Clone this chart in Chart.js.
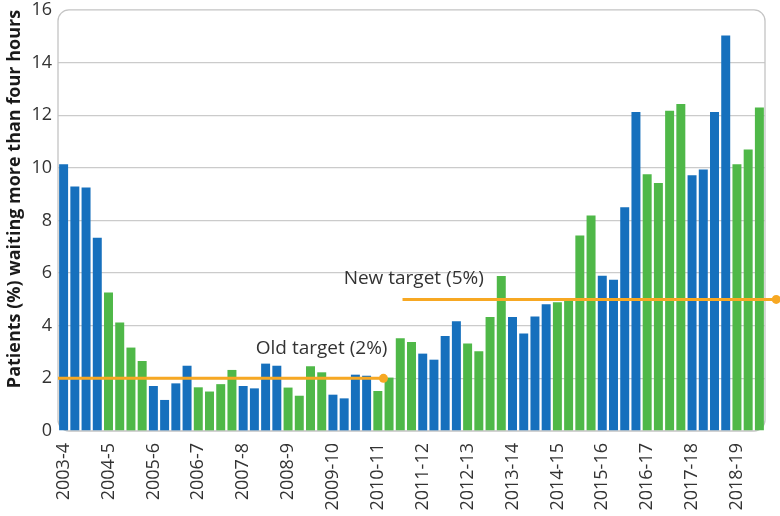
<!DOCTYPE html>
<html>
<head>
<meta charset="utf-8">
<script src="https://cdn.jsdelivr.net/npm/chart.js@4/dist/chart.umd.min.js"></script>
<style>
  body { margin: 0; background: #fff; }
  #wrap { width: 780px; height: 516px; }
</style>
</head>
<body>
<div id="wrap"><canvas id="chart1"></canvas></div>
<script>
var years = [
    "2003-4", "2004-5", "2005-6", "2006-7", "2007-8", "2008-9", "2009-10", "2010-11",
    "2011-12", "2012-13", "2013-14", "2014-15", "2015-16", "2016-17", "2017-18", "2018-19"
];

// quarterly % waiting more than four hours, Q1..Q4 per year
var waiting = [
    10.14, 9.29, 9.25, 7.34,
    5.26, 4.12, 3.17, 2.66,
    1.71, 1.18, 1.81, 2.48,
    1.66, 1.50, 1.78, 2.32,
    1.71, 1.62, 2.56, 2.48,
    1.65, 1.34, 2.46, 2.23,
    1.38, 1.24, 2.14, 2.10,
    1.52, 2.03, 3.52, 3.38,
    2.94, 2.71, 3.61, 4.17,
    3.32, 3.03, 4.33, 5.89,
    4.33, 3.70, 4.35, 4.82,
    4.89, 5.02, 7.43, 8.19,
    5.90, 5.75, 8.50, 12.12,
    9.76, 9.42, 12.17, 12.42,
    9.72, 9.94, 12.12, 15.03,
    10.14, 10.70, 12.29
];

// targets: start/end quarter position and level
var oldTarget = [{x: -0.5, y: 2}, {x: 28.5, y: 2}];
var newTarget = [{x: 30.2, y: 5}, {x: 63.5, y: 5}];
var targetNames = ["Old target (2%)", "New target (5%)"];

var yTicks = [0, 2, 4, 6, 8, 10, 12, 14, 16];

var quarters = waiting.map(function (v, i) {
    return years[Math.floor(i / 4)] + " Q" + (i % 4 + 1);
});
var barColors = waiting.map(function (v, i) {
    return Math.floor(i / 4) % 2 === 0 ? "#1670bd" : "#4fb848";
});

var FONT = "'Open Sans', 'Noto Sans', sans-serif";
var ORANGE = "#f7a823";

var framePlugin = {
    id: 'frame',
    beforeDatasetsDraw: function (chart) {
        var a = chart.chartArea, c = chart.ctx;
        c.save();
        c.strokeStyle = "#c4c4c4";
        c.lineWidth = 1.3;
        c.beginPath();
        c.roundRect(a.left, a.top, a.right - a.left, a.bottom - a.top, 11);
        c.stroke();
        c.restore();
    },
    afterDatasetsDraw: function (chart) {
        var c = chart.ctx;
        var xs = chart.scales.x2, ys = chart.scales.y;
        c.save();
        // end marker of the new target line sits outside the plot area
        var pt = chart.getDatasetMeta(1).data[1];
        c.fillStyle = ORANGE;
        c.beginPath();
        c.arc(pt.x, pt.y, 4.5, 0, Math.PI * 2);
        c.fill();

        c.font = "19px " + FONT;
        c.fillStyle = "#333";
        c.textBaseline = "middle";
        c.textAlign = "right";
        c.fillText(targetNames[0], xs.getPixelForValue(oldTarget[1].x) + 4, ys.getPixelForValue(2) - 30);
        c.textAlign = "center";
        c.fillText(targetNames[1], xs.getPixelForValue(31.2), ys.getPixelForValue(5) - 21);
        c.restore();
    }
};

window.onload = function () {
    var ctx = document.getElementById('chart1').getContext('2d');

    window.theChart = new Chart(ctx, {
        data: {
            labels: quarters,
            datasets: [
                {
                    type: 'line',
                    data: oldTarget,
                    xAxisID: 'x2',
                    borderColor: ORANGE,
                    backgroundColor: ORANGE,
                    borderWidth: 3,
                    pointRadius: [0, 4.5],
                    pointBorderWidth: 0,
                    clip: false,
                    order: 0
                },
                {
                    type: 'line',
                    data: newTarget,
                    xAxisID: 'x2',
                    borderColor: ORANGE,
                    backgroundColor: ORANGE,
                    borderWidth: 3,
                    pointRadius: 0,
                    clip: false,
                    order: 0
                },
                {
                    type: 'bar',
                    data: waiting,
                    xAxisID: 'x',
                    backgroundColor: barColors,
                    grouped: false,
                    barPercentage: 0.8,
                    categoryPercentage: 1,
                    order: 1
                }
            ]
        },
        options: {
            responsive: true,
            maintainAspectRatio: false,
            animation: false,
            layout: { padding: { top: 0, right: 15, left: 4, bottom: 0 } },
            plugins: {
                legend: { display: false },
                tooltip: { enabled: false }
            },
            scales: {
                x: {
                    type: 'category',
                    offset: true,
                    grid: {
                        display: true,
                        drawOnChartArea: false,
                        drawTicks: true,
                        tickLength: 12,
                        tickColor: 'rgba(0,0,0,0)'
                    },
                    border: { display: false },
                    afterFit: function (axis) { axis.height = 85; },
                    ticks: {
                        autoSkip: false,
                        maxRotation: 90,
                        minRotation: 90,
                        padding: 0,
                        color: "#333",
                        font: { family: FONT, size: 18, lineHeight: 1.0 },
                        callback: function (v, i) {
                            return i % 4 === 0 ? years[i / 4] : '';
                        }
                    }
                },
                x2: {
                    type: 'linear',
                    display: false,
                    min: -0.5,
                    max: 62.5
                },
                y: {
                    min: 0,
                    max: 16,
                    afterBuildTicks: function (axis) {
                        axis.ticks = yTicks.map(function (v) { return {value: v}; });
                    },
                    afterFit: function (axis) { axis.width = 54; },
                    grid: {
                        drawTicks: true,
                        tickLength: 6,
                        tickColor: 'rgba(0,0,0,0)',
                        lineWidth: 1.3,
                        color: function (c) {
                            return (c.tick.value === 0 || c.tick.value === 16) ? 'rgba(0,0,0,0)' : '#cbcbcb';
                        }
                    },
                    border: { display: false },
                    ticks: {
                        padding: 0,
                        color: "#333",
                        font: { family: FONT, size: 18, lineHeight: 1.1 }
                    },
                    title: {
                        display: true,
                        align: 'end',
                        text: "Patients (%) waiting more than four hours",
                        color: "#1a1a1a",
                        padding: { top: 0, bottom: 2 },
                        font: { family: FONT, size: 18, weight: 'bold' }
                    }
                }
            }
        },
        plugins: [framePlugin]
    });
};
</script>
</body>
</html>
